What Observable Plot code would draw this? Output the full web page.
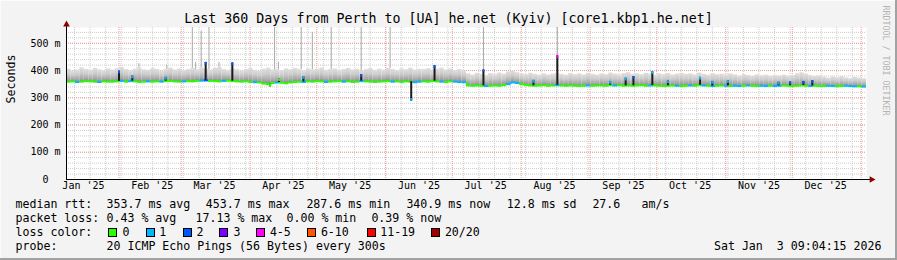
<!DOCTYPE html>
<html>
<head>
<meta charset="utf-8">
<script src="https://cdn.jsdelivr.net/npm/d3@7"></script>
<script src="https://cdn.jsdelivr.net/npm/@observablehq/plot@0.6"></script>
<style>
html, body { margin: 0; padding: 0; background: #f3f3f3; }
#wrap { position: relative; width: 897px; height: 260px; background: #f3f3f3; overflow: hidden;
  font-family: "DejaVu Sans Mono", monospace; color: #000;
  box-shadow: inset -2px -2px 0 #a2a2a2, inset 1px 1px 0 #fbfbfb; }
#wrap svg { position: absolute; left: 0; top: 0; }
.t { position: absolute; white-space: pre; font-size: 11.6px; line-height: 14px; height: 14px; }
.title { position: absolute; left: 0; top: 10px; width: 897px; text-align: center; font-size: 13.3px; line-height: 17px; white-space: pre; }
.box { position: absolute; width: 7px; height: 7px; border: 1px solid #000; }
</style>
</head>
<body>
<div id="wrap"></div>
<script>
// ---------------- data ----------------
const titleText = "Last 360 Days from Perth to [UA] he.net (Kyiv) [core1.kbp1.he.net]";
const endTime = "2026-01-03T09:04:15Z";
const spanDays = 360;
const stepDays = 2;

// median RTT (ms), one value per 2-day step starting at the left edge
const medianMs = [
  359,360,358,359,361,360,359,358,360,359,
  359,360,362,359,361,360,358,359,360,359,
  360,359,361,362,360,359,360,361,360,362,
  363,364,362,361,360,362,363,361,360,359,
  360,358,357,356,352,350,354,356,355,353,
  356,358,359,358,360,359,361,360,358,359,
  360,361,359,360,358,359,361,360,359,358,
  359,360,361,359,360,358,360,359,357,359,
  360,359,361,360,359,358,360,359,358,357,
  345,344,345,344,343,344,345,344,346,350,
  356,354,350,347,345,344,345,346,344,345,
  346,345,344,345,344,343,344,345,344,345,
  345,344,346,345,346,344,345,344,345,346,
  344,345,345,344,343,344,345,344,343,344,
  345,344,346,345,344,343,344,345,344,343,
  344,343,344,345,344,343,344,343,344,343,
  344,345,344,343,344,345,344,343,344,343,
  343,344,343,342,343,344,343,342,342,341
];
// lost pings (of 20) per step
const lossCount = [
  0,0,1,0,0,0,0,1,0,0,
  0,0,1,0,1,0,0,0,1,0,
  0,1,0,0,0,0,1,0,0,0,
  1,2,0,0,0,1,0,0,0,0,
  0,0,1,0,0,0,0,1,0,0,
  0,0,0,1,0,0,0,0,1,0,
  0,0,1,0,0,0,1,0,0,0,
  0,0,0,1,0,0,0,0,1,1,
  0,0,0,0,1,0,0,1,1,1,
  0,0,0,0,1,0,0,0,0,1,
  1,1,0,0,0,0,0,0,0,0,
  1,0,0,0,0,0,0,1,0,0,
  0,0,0,1,0,0,0,0,0,0,
  0,1,0,0,0,0,0,1,0,0,
  1,0,0,1,0,1,0,0,1,0,
  1,1,0,1,0,0,1,1,0,1,
  1,0,0,0,0,0,0,1,0,0,
  0,1,1,0,0,1,1,1,0,1
];
// top of the smoke (slowest pings, ms) per step
const smokeTopMs = [
  405,398,402,410,404,400,408,403,399,406,
  402,407,412,404,399,405,410,403,401,407,
  404,398,405,409,402,406,400,404,408,403,
  410,405,402,408,412,404,400,406,403,399,
  404,407,401,398,405,409,402,404,400,406,
  403,408,404,399,406,402,405,409,401,404,
  406,400,404,408,402,405,399,404,407,401,
  405,402,408,404,400,406,403,409,402,405,
  404,407,401,405,409,402,406,400,404,398,
  388,384,390,386,382,389,385,391,387,395,
  398,392,388,385,390,386,383,388,384,387,
  390,386,383,389,385,388,384,390,386,383,
  388,385,391,387,384,389,392,386,388,385,
  390,386,383,388,385,389,384,387,390,386,
  388,384,391,386,383,389,385,387,384,388,
  384,380,385,382,379,384,381,383,379,382,
  380,383,378,382,388,392,386,381,378,380,
  376,372,377,374,378,373,371,375,372,370
];
// short median excursions
const spikeDates = ["2025-02-01T00:00Z","2025-02-07T00:00Z","2025-02-22T00:00Z","2025-03-12T00:00Z","2025-03-24T00:00Z",
  "2025-04-10T00:00Z","2025-04-14T00:00Z","2025-04-25T00:00Z","2025-05-21T00:00Z","2025-06-12T12:00Z","2025-06-23T00:00Z",
  "2025-07-15T00:00Z","2025-08-06T12:00Z","2025-08-17T06:00Z","2025-09-10T00:00Z","2025-09-17T00:00Z","2025-09-20T12:00Z",
  "2025-09-29T00:00Z","2025-10-06T00:00Z","2025-10-20T12:00Z","2025-10-26T00:00Z","2025-11-02T00:00Z","2025-11-24T18:00Z",
  "2025-11-30T00:00Z","2025-12-06T00:00Z","2025-12-10T00:00Z"];
const spikeMs = [398,380,375,430,428,340,370,378,385,287,418,402,364,454,360,372,378,396,362,375,360,363,357,358,360,363];
const spikeLoss = [2,1,1,2,2,0,0,1,2,1,2,2,1,5,1,1,2,1,1,1,1,1,1,2,2,2];
// isolated slow pings reaching high
const outlierDates = ["2025-02-10T00:00Z","2025-02-22T12:00Z","2025-03-06T00:00Z","2025-03-07T12:00Z","2025-03-10T00:00Z","2025-03-13T12:00Z",
  "2025-03-18T00:00Z","2025-04-12T00:00Z","2025-04-13T18:00Z","2025-04-24T00:00Z","2025-04-29T00:00Z","2025-05-07T12:00Z",
  "2025-05-21T00:00Z","2025-06-03T00:00Z","2025-07-15T00:00Z","2025-08-17T06:00Z"];
const outlierTopMs = [425,420,558,430,545,558,430,558,430,558,540,558,558,558,558,558];

const yTop = 558;
const yMajorTicks = [0, 100, 200, 300, 400, 500];
const yMinorStep = 20;

const lossLabels = ["0","1","2","3","4-5","6-10","11-19","20/20"];
const lossUpper  = [0, 1, 2, 3, 5, 10, 19, 20];
const lossColors = ["#26ff00","#00b8ff","#0059ff","#7e00ff","#ff00ff","#ff5500","#ff0000","#a10000"];

const rttStats  = ["353.7 ms avg","453.7 ms max","287.6 ms min","340.9 ms now","12.8 ms sd","27.6","am/s"];
const lossStats = ["0.43 % avg","17.13 % max","0.00 % min","0.39 % now"];
const probeText = "20 ICMP Echo Pings (56 Bytes) every 300s";
const stampText = "Sat Jan  3 09:04:15 2026";

// ---------------- derived ----------------
const DAY = 864e5;
const END = new Date(endTime);
const START = new Date(+END - spanDays * DAY);
const colorOf = n => lossColors[lossUpper.findIndex(u => n <= u)];
const idxOf = d => Math.min(medianMs.length - 1, Math.max(0, Math.floor((+d - +START) / (stepDays * DAY))));

const samples = medianMs.map((m, i) => ({
  t0: new Date(+START + i * stepDays * DAY),
  t1: new Date(+START + (i + 1) * stepDays * DAY),
  median: m, prev: i ? medianMs[i - 1] : m,
  color: colorOf(lossCount[i]), top: smokeTopMs[i]
}));
const spikes = spikeDates.map((s, i) => {
  const date = new Date(s), base = medianMs[idxOf(date)], value = spikeMs[i];
  return {date, base, value, cap: value - Math.sign(value - base) * 10, color: colorOf(spikeLoss[i])};
});
const outliers = outlierDates.map((s, i) => {
  const date = new Date(s);
  return {date, from: smokeTopMs[idxOf(date)], top: outlierTopMs[i]};
});

const yMinor = d3.range(yMinorStep, yTop, yMinorStep);
const sundays = d3.utcSunday.range(START, END);
const monthStarts = d3.utcMonth.range(START, END);
const monthMids = d3.utcMonth.range(d3.utcMonth.floor(START), END)
  .map(d => d3.utcDay.offset(d, 15)).filter(d => d > START && d < END);
const fmtMonth = d3.utcFormat("%b '%y");
const axisEnd = new Date(+END + 2.0 * DAY);
const arrowRight = new Date(+END + 2.3 * DAY);

const SMOKE = "#010203";
const minorColor = "#cccccc", majorColor = "#f09a9a";

const chart = Plot.plot({
  width: 897, height: 200,
  marginTop: 27, marginBottom: 21, marginLeft: 66, marginRight: 31,
  style: {background: "transparent", fontFamily: "'DejaVu Sans Mono', monospace", fontSize: "10px", color: "#000", overflow: "visible"},
  x: {type: "utc", domain: [START, END], axis: null},
  y: {domain: [0, yTop], axis: null},
  color: {type: "identity"},
  marks: [
    Plot.frame({fill: "#ffffff", stroke: "none"}),
    Plot.ruleY(yMinor, {stroke: minorColor, strokeDasharray: "1,1"}),
    Plot.ruleX(sundays, {stroke: minorColor, strokeDasharray: "1,1"}),
    Plot.ruleY(yMajorTicks.filter(v => v > 0), {stroke: majorColor, strokeDasharray: "1,1"}),
    Plot.ruleX(monthStarts, {stroke: majorColor, strokeDasharray: "1,1"}),
    // smoke
    Plot.rect(samples, {x1: "t0", x2: "t1", y1: d => d.median - 3, y2: "top", fill: SMOKE}),
    Plot.ruleX(outliers, {x: "date", y1: "from", y2: "top", stroke: "#a8a8a8", strokeWidth: 1}),
    // median line coloured by loss
    Plot.ruleX(samples.slice(1), {x: "t0", y1: "prev", y2: "median", stroke: "color", strokeWidth: 1.5}),
    Plot.ruleY(samples, {x1: "t0", x2: "t1", y: "median", stroke: "color", strokeWidth: 2}),
    // excursions
    Plot.ruleX(spikes, {x: "date", y1: "base", y2: "value", stroke: "#1c1c1c", strokeWidth: 2}),
    Plot.ruleX(spikes, {x: "date", y1: "cap", y2: "value", stroke: "color", strokeWidth: 2}),
    // axes
    Plot.ruleX([START], {x: d => d, y1: () => 0, y2: () => 566, stroke: "#000"}),
    Plot.ruleY([0], {y: d => d, x1: () => START, x2: () => axisEnd, stroke: "#000"}),
    Plot.dot([START], {x: d => d, y: () => 569, symbol: "triangle", r: 2.5, fill: "#8b0000", stroke: "none"}),
    Plot.dot([arrowRight], {x: d => d, y: () => 0, symbol: "triangle", rotate: 90, r: 2.5, fill: "#8b0000", stroke: "none"}),
    // tick labels
    Plot.text(monthMids, {x: d => d, text: d => fmtMonth(d), frameAnchor: "bottom", dy: 9.3, fontSize: 10, fill: "#000"}),
    Plot.text(yMajorTicks.filter(v => v > 0), {y: d => d, text: d => `${d} m`, frameAnchor: "left", textAnchor: "end", dx: -6, fontSize: 10, fill: "#000"}),
    Plot.text(yMajorTicks.filter(v => v === 0), {y: d => d, text: d => `${d}`, frameAnchor: "left", textAnchor: "end", dx: -18, fontSize: 10, fill: "#000"}),
    Plot.text(["Seconds"], {text: d => d, frameAnchor: "left", dx: -55, rotate: -90, fontSize: 11.6, fill: "#000"}),
    Plot.text(["RRDTOOL / TOBI OETIKER"], {text: d => d, frameAnchor: "top-right", dx: 22, dy: -22, rotate: 90, textAnchor: "start", fontSize: 8.3, fill: "#b4b4b4"})
  ]
});

// smoke gradient
const ns = "http://www.w3.org/2000/svg";
const defs = document.createElementNS(ns, "defs");
const grad = document.createElementNS(ns, "linearGradient");
grad.setAttribute("id", "smoke");
grad.setAttribute("x1", "0"); grad.setAttribute("y1", "0"); grad.setAttribute("x2", "0"); grad.setAttribute("y2", "1");
[["0", "#e0e0e0"], ["0.4", "#cbcbcb"], ["0.8", "#a2a2a2"], ["1", "#828282"]].forEach(([o, c]) => {
  const s = document.createElementNS(ns, "stop");
  s.setAttribute("offset", o); s.setAttribute("stop-color", c); grad.appendChild(s);
});
defs.appendChild(grad);
chart.insertBefore(defs, chart.firstChild);
chart.querySelectorAll(`[fill="${SMOKE}"]`).forEach(el => el.setAttribute("fill", "url(#smoke)"));

const wrap = document.getElementById("wrap");
wrap.appendChild(chart);

// title
const title = document.createElement("div");
title.className = "title"; title.textContent = titleText;
wrap.appendChild(title);

// legend (layout positions)
function put(text, left, top, extra) {
  const s = document.createElement("span");
  s.className = "t"; s.textContent = text;
  s.style.left = left + "px"; s.style.top = top + "px";
  if (extra) Object.assign(s.style, extra);
  wrap.appendChild(s); return s;
}
const rowTop = [197.3, 211.3, 225.3, 239];
const rttX = [106.5, 205.8, 306.4, 406.4, 506.8, 592.4, 641.6];
const lossX = [106.5, 195.5, 286.5, 371.4];
const boxX = [108.3, 145.7, 182.7, 219.3, 256, 306.7, 366.7, 430.7];
const boxLabelX = [122.5, 159.2, 196.5, 233.5, 269.9, 320.9, 380.2, 444.9];

put("median rtt:", 15.5, rowTop[0]);
rttStats.forEach((t, i) => put(t, rttX[i], rowTop[0]));
put("packet loss:", 15.5, rowTop[1]);
lossStats.forEach((t, i) => put(t, lossX[i], rowTop[1]));
put("loss color:", 15.5, rowTop[2]);
lossLabels.forEach((t, i) => {
  const b = document.createElement("div");
  b.className = "box"; b.style.left = Math.round(boxX[i]) + "px"; b.style.top = "228px";
  b.style.background = lossColors[i];
  wrap.appendChild(b);
  put(t, boxLabelX[i], rowTop[2]);
});
put("probe:", 15.5, rowTop[3]);
put(probeText, 106.5, rowTop[3]);
put(stampText, 0, rowTop[3], {left: "auto", right: (897 - 881.5) + "px"});
</script>
</body>
</html>
